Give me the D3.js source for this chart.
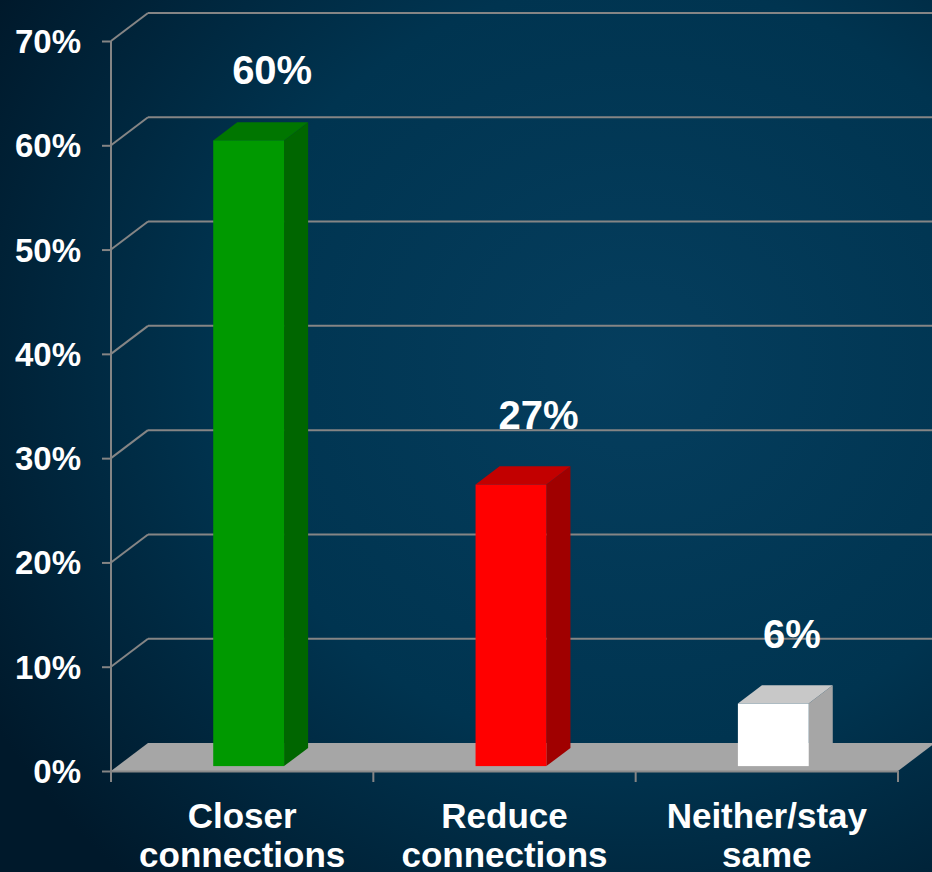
<!DOCTYPE html>
<html>
<head>
<meta charset="utf-8">
<script src="https://cdn.jsdelivr.net/npm/d3@7"></script>
<style>
  html, body { margin: 0; padding: 0; background: #002a44; overflow: hidden; }
  svg { display: block; font-family: "Liberation Sans", Arial, sans-serif; font-weight: bold; }
</style>
</head>
<body>
<div id="chart"></div>
<script>
const categories = ['Closer|connections', 'Reduce|connections', 'Neither/stay|same']
const values = [0.60, 0.27, 0.06]
const yTicks = [0, 0.1, 0.2, 0.3, 0.4, 0.5, 0.6, 0.7]
const barColors = [
  { front: '#009900', side: '#006600', top: '#007600' },
  { front: '#ff0000', side: '#a00000', top: '#c20000' },
  { front: '#ffffff', side: '#a6a6a6', top: '#c8c8c8' }
]

const W = 932, H = 872
// depth vector of the 3D box (floor / walls)
const DX = 37, DY = -28
// bar sits in the middle of the depth: front offset and own depth
const BF = 0.175, BD = 0.65

const svg = d3.select('#chart').append('svg').attr('width', W).attr('height', H)

// ── background ──────────────────────────────────────────────
const defs = svg.append('defs')
const bg = defs.append('radialGradient').attr('id', 'bg')
  .attr('cx', '68%').attr('cy', '42%').attr('r', '80%')
bg.append('stop').attr('offset', '0%').attr('stop-color', '#053e5e')
bg.append('stop').attr('offset', '55%').attr('stop-color', '#003450')
bg.append('stop').attr('offset', '100%').attr('stop-color', '#00192b')
svg.append('rect').attr('width', W).attr('height', H).attr('fill', 'url(#bg)')

// ── scales ──────────────────────────────────────────────────
const x = d3.scaleBand().domain(categories).range([111, 898]).paddingInner(0).paddingOuter(0)
const y = d3.scaleLinear().domain([0, 0.7]).range([771, 41])
const grid = '#858585'

// back wall gridlines + side wall diagonals
const g = svg.append('g')
g.selectAll('line.h').data(yTicks.slice(1)).join('line')
  .attr('x1', x.range()[0] + DX).attr('x2', W + 5)
  .attr('y1', d => y(d) + DY).attr('y2', d => y(d) + DY)
  .attr('stroke', grid).attr('stroke-width', 2)
g.selectAll('line.d').data(yTicks.slice(1)).join('line')
  .attr('x1', x.range()[0]).attr('x2', x.range()[0] + DX)
  .attr('y1', d => y(d)).attr('y2', d => y(d) + DY)
  .attr('stroke', grid).attr('stroke-width', 2)

// floor
const x0 = x.range()[0], x1 = x.range()[1], y0 = y(0)
svg.append('path')
  .attr('d', `M${x0},${y0} L${x0 + DX},${y0 + DY} L${x1 + DX},${y0 + DY} L${x1},${y0} Z`)
  .attr('fill', '#a6a6a6')
svg.append('line').attr('x1', x0).attr('x2', x1).attr('y1', y0 + 0.5).attr('y2', y0 + 0.5)
  .attr('stroke', '#8a8a8a').attr('stroke-width', 2)

// y axis
const yAxis = svg.append('g').attr('transform', `translate(${x0},0)`)
  .call(d3.axisLeft(y).tickValues(yTicks).tickFormat(d3.format('.0%')).tickSize(9).tickSizeOuter(0).tickPadding(21))
yAxis.select('.domain').remove()
yAxis.selectAll('.tick line').attr('stroke', grid).attr('stroke-width', 2)
yAxis.selectAll('.tick text').attr('fill', '#ffffff').style('font-size', '33px')
  .style('font-family', '"Liberation Sans", Arial, sans-serif').style('font-weight', 'bold').attr('dy', '0.35em')
svg.append('line').attr('x1', x0).attr('x2', x0).attr('y1', y(0.7)).attr('y2', y0 + 11)
  .attr('stroke', grid).attr('stroke-width', 2)

// x axis ticks at band edges
const edges = categories.map(c => x(c)).concat([x1])
svg.selectAll('line.xt').data(edges).join('line')
  .attr('x1', d => d).attr('x2', d => d).attr('y1', y0).attr('y2', y0 + 11)
  .attr('stroke', grid).attr('stroke-width', 2)

// ── bars ────────────────────────────────────────────────────
const bw = x.bandwidth() * 0.27
const fdx = DX * BF, fdy = DY * BF
const ddx = DX * BD, ddy = DY * BD
const bars = svg.append('g').selectAll('g').data(categories).join('g')
bars.each(function (c, i) {
  const gb = d3.select(this)
  const cx = x(c) + x.bandwidth() / 2 + fdx
  const L = cx - bw / 2, R = cx + bw / 2
  const T = y(values[i]) + fdy, B = y(0) + fdy
  const col = barColors[i]
  gb.append('path').attr('d', `M${R},${T} L${R + ddx},${T + ddy} L${R + ddx},${B + ddy} L${R},${B} Z`).attr('fill', col.side)
  gb.append('path').attr('d', `M${L},${T} L${L + ddx},${T + ddy} L${R + ddx},${T + ddy} L${R},${T} Z`).attr('fill', col.top)
  gb.append('rect').attr('x', L).attr('y', T).attr('width', bw).attr('height', B - T).attr('fill', col.front)
})

// value labels
const labelDx = [30, 34, 25]
svg.selectAll('text.val').data(values).join('text')
  .attr('x', (d, i) => x(categories[i]) + x.bandwidth() / 2 + labelDx[i])
  .attr('y', d => y(d) + fdy - 56)
  .attr('text-anchor', 'middle').attr('fill', '#ffffff').style('font-size', '40px')
  .text(d => d3.format('.0%')(d))

// category labels
svg.selectAll('text.cat').data(categories).join('text')
  .attr('text-anchor', 'middle').attr('fill', '#ffffff').style('font-size', '35px')
  .each(function (c) {
    const t = d3.select(this)
    c.split('|').forEach((line, k) => {
      t.append('tspan').attr('x', x(c) + x.bandwidth() / 2).attr('y', 828 + k * 39).text(line)
    })
  })
</script>
</body>
</html>
